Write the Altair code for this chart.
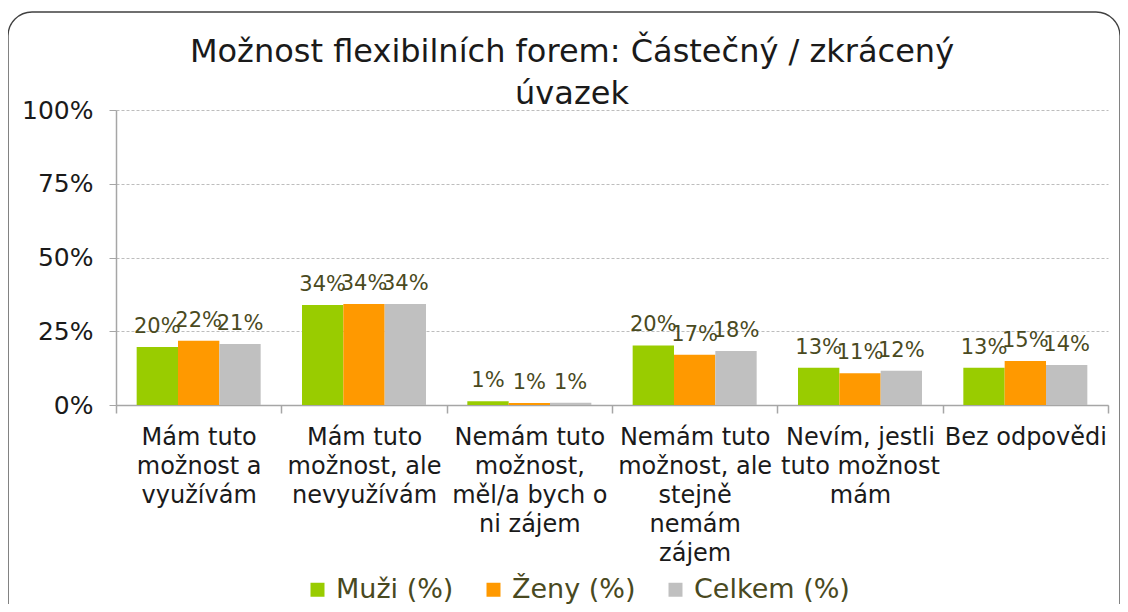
import altair as alt
import pandas as pd

categories = [
    "Mám tuto|možnost a|využívám",
    "Mám tuto|možnost, ale|nevyužívám",
    "Nemám tuto|možnost,|měl/a bych o|ni zájem",
    "Nemám tuto|možnost, ale|stejně|nemám|zájem",
    "Nevím, jestli|tuto možnost|mám",
    "Bez odpovědi",
]
series = ["Muži (%)", "Ženy (%)", "Celkem (%)"]
muzi = [19.7, 33.9, 1.3, 20.2, 12.6, 12.6]
zeny = [21.8, 34.2, 0.7, 17.0, 10.8, 14.9]
celkem = [20.7, 34.2, 0.8, 18.3, 11.6, 13.6]
colors = ["#99CC00", "#FF9900", "#C0C0C0"]
y_ticks = [0, 25, 50, 75, 100]

rows = []
for s, vals in zip(series, [muzi, zeny, celkem]):
    for c, v in zip(categories, vals):
        rows.append({"cat": c, "series": s, "value": v})
df = pd.DataFrame(rows)

FONT = "DejaVu Sans"

base = alt.Chart(df).encode(
    x=alt.X(
        "cat:N",
        sort=categories,
        scale=alt.Scale(paddingInner=0, paddingOuter=0),
        axis=alt.Axis(
            title=None,
            labelAngle=0,
            labelExpr="split(datum.label, '|')",
            labelFont=FONT,
            labelFontSize=24,
            labelLineHeight=29,
            labelColor="#1a1a1a",
            labelPadding=12,
            labelLimit=400,
            labelBaseline="top",
            tickBand="extent",
            tickSize=8,
            tickColor="#A6A6A6",
            domainColor="#A6A6A6",
            domainWidth=1.5,
            tickWidth=1.5,
            grid=False,
        ),
    ),
    xOffset=alt.XOffset(
        "series:N", sort=series, scale=alt.Scale(paddingInner=0, paddingOuter=0.5)
    ),
    y=alt.Y(
        "value:Q",
        scale=alt.Scale(domain=[0, 100]),
        axis=alt.Axis(
            title=None,
            values=y_ticks,
            labelExpr="datum.value + '%'",
            labelFont=FONT,
            labelFontSize=25,
            labelColor="#1a1a1a",
            labelPadding=16,
            tickSize=7,
            tickColor="#A6A6A6",
            domainColor="#A6A6A6",
            domainWidth=1.5,
            grid=True,
            gridDash=[3, 2],
            gridColor="#BDBDBD",
        ),
    ),
)

bars = base.mark_bar().encode(
    color=alt.Color(
        "series:N",
        sort=series,
        scale=alt.Scale(domain=series, range=colors),
        legend=alt.Legend(
            orient="none",
            legendX=188,
            legendY=466,
            direction="horizontal",
            columns=3,
            title=None,
            symbolType="square",
            symbolSize=196,
            symbolStrokeWidth=0,
            labelFont=FONT,
            labelFontSize=27,
            labelColor="#494921",
            columnPadding=26,
            labelOffset=5,
            padding=0,
        ),
    )
)

labels = base.transform_calculate(
    lbl="format(datum.value, '.0f') + '%'"
).mark_text(
    font=FONT, fontSize=21, color="#4a4a1e", dy=-14, baseline="alphabetic", align="center"
).encode(text="lbl:N")

frame = alt.Chart(pd.DataFrame({"f": [0]})).mark_rect(
    filled=False, stroke="#404040", strokeWidth=1.3, cornerRadius=24
).encode(
    x=alt.value(-108), x2=alt.value(1004), y=alt.value(-98), y2=alt.value(540)
)

chart = alt.layer(frame, bars, labels).properties(
    width=992,
    height=295,
    autosize=alt.AutoSizeParams(type="none"),
    padding={"left": 108, "top": 102, "right": 12, "bottom": 199},
    title=alt.Title(
        ["Možnost flexibilních forem: Částečný / zkrácený", "úvazek"],
        font=FONT,
        fontSize=32,
        fontWeight="normal",
        color="#1a1a1a",
        lineHeight=42,
        offset=-100,
        dx=-40,
        anchor="middle",
    ),
).configure_view(stroke=None)

chart.save("out.html", embed_options={"renderer": "svg", "actions": False})
